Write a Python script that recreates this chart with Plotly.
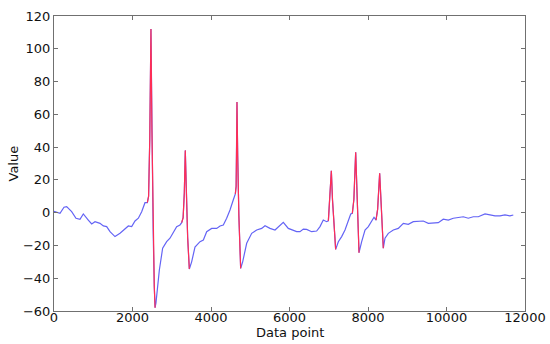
import plotly.graph_objects as go

# Data
x_points = [0, 25, 153, 255, 323, 450, 560, 662, 747, 874, 960, 1045, 1172, 1257, 1342, 1427,
            1554, 1682, 1809, 1894, 1979, 2064, 2149, 2234, 2318, 2378,
            2410, 2440, 2470, 2495, 2525, 2555, 2575,
            2598, 2684, 2768, 2870, 2955, 3040, 3125, 3210, 3253,
            3290, 3320, 3345, 3370, 3405, 3448,
            3507, 3592, 3720, 3805, 3890, 4017, 4145, 4230, 4314, 4399, 4484, 4569, 4620,
            4640, 4652, 4662, 4680, 4710, 4756,
            4807, 4909, 5037, 5164, 5291, 5376, 5503, 5631, 5758, 5842, 5970, 6055, 6182,
            6267, 6352, 6437, 6564, 6692, 6777, 6861, 6946, 6990,
            7030, 7066, 7095, 7135, 7176,
            7244, 7329, 7414, 7499, 7560, 7601,
            7640, 7686, 7720, 7771,
            7839, 7924, 8009, 8094, 8153, 8204,
            8245, 8297, 8335, 8390,
            8433, 8518, 8645, 8772, 8900, 9027, 9154, 9282, 9409, 9537, 9664, 9791, 9918,
            10046, 10173, 10300, 10428, 10555, 10683, 10810, 10981, 11108, 11236, 11363,
            11490, 11618, 11702]
y_values = [0.8, 0.6, -0.4, 3.3, 3.7, 0.6, -3.4, -4.0, -0.8, -4.5, -6.9, -5.5, -6.5, -8.1, -8.5, -11.6,
            -14.6, -12.6, -10.1, -8.1, -8.5, -5.1, -3.4, 0.6, 6.1, 6.1,
            10, 45, 112, 50, -10, -45, -58,
            -55, -35, -21.7, -17.7, -15.6, -11.6, -8.5, -7.5, -6.1,
            -3, 12, 38, 15, -15, -34.4,
            -30, -21, -17.7, -16.7, -11.6, -9.6, -9.6, -8.1, -7.5, -3.4, 1.6, 7.9, 11.5,
            16, 40, 67.5, 35, -2, -34,
            -30, -18.7, -12.6, -10.6, -9.6, -8.0, -9.6, -10.6, -7.5, -5.9, -9.6, -10.6, -11.6,
            -11.6, -10.0, -10.2, -11.6, -11.2, -8.5, -4.5, -5.5, -5.0,
            8, 25.6, 8, -10, -22.4,
            -17.7, -14.6, -10.6, -4.5, -0.8, -0.4,
            8, 36.8, 8, -24.4,
            -17.7, -10.6, -8.5, -5.5, -2.8, -4.5,
            2, 24, 3, -21.7,
            -15.6, -12.6, -10.6, -9.6, -6.5, -7.1, -5.5, -5.1, -5.1, -6.5, -6.5, -6.1, -4.0,
            -4.5, -3.4, -2.8, -2.5, -3.4, -2.5, -2.5, -0.8, -1.4, -2.0, -2.0,
            -1.4, -2.0, -1.4]

# x-ranges of the curve that are drawn in red (the spikes)
peak_start = [2378, 3253, 4620, 6990, 7601, 8204]
peak_end = [2575, 3448, 4756, 7176, 7771, 8390]

x_ticks = [0, 2000, 4000, 6000, 8000, 10000, 12000]
y_ticks = [-60, -40, -20, 0, 20, 40, 60, 80, 100, 120]

BLUE = "#6464f5"
RED = "#ff2d55"

fig = go.Figure()
fig.add_trace(go.Scatter(x=x_points, y=y_values, mode="lines",
                         line=dict(color=BLUE, width=1.2), showlegend=False, hoverinfo="skip"))
for s, e in zip(peak_start, peak_end):
    xs = [x for x in x_points if s <= x <= e]
    ys = [y for x, y in zip(x_points, y_values) if s <= x <= e]
    fig.add_trace(go.Scatter(x=xs, y=ys, mode="lines",
                             line=dict(color=RED, width=1.2), showlegend=False, hoverinfo="skip"))

axis_common = dict(showline=True, linecolor="#707070", linewidth=1, mirror="ticks",
                   ticks="inside", ticklen=4, tickcolor="#707070", showgrid=False,
                   zeroline=False, automargin=False,
                   tickfont=dict(family="DejaVu Sans", size=13, color="#111"))

fig.update_layout(
    width=550, height=344,
    margin=dict(l=54, r=25, t=16, b=33),
    paper_bgcolor="white", plot_bgcolor="white",
    font=dict(family="DejaVu Sans", size=13, color="#111"),
    xaxis=dict(range=[0, 12000], tickvals=x_ticks, ticktext=[str(v) for v in x_ticks],
               ticklabelstandoff=-6, **axis_common),
    yaxis=dict(range=[-60, 120], tickvals=y_ticks,
               ticktext=[str(v).replace("-", "\u2212") for v in y_ticks],
               **axis_common),
    annotations=[
        dict(text="Data point", xref="paper", yref="paper", x=0.5, y=0, yshift=-21,
             xanchor="center", yanchor="middle", showarrow=False,
             font=dict(family="DejaVu Sans", size=13, color="#111")),
        dict(text="Value", xref="paper", yref="paper", x=0, xshift=-41, y=0.5,
             xanchor="center", yanchor="middle", textangle=-90, showarrow=False,
             font=dict(family="DejaVu Sans", size=13, color="#111")),
    ],
)

fig.write_html("out.html", config={"displayModeBar": False},
               post_script="document.body.style.margin='0';document.body.style.overflow='hidden';")
